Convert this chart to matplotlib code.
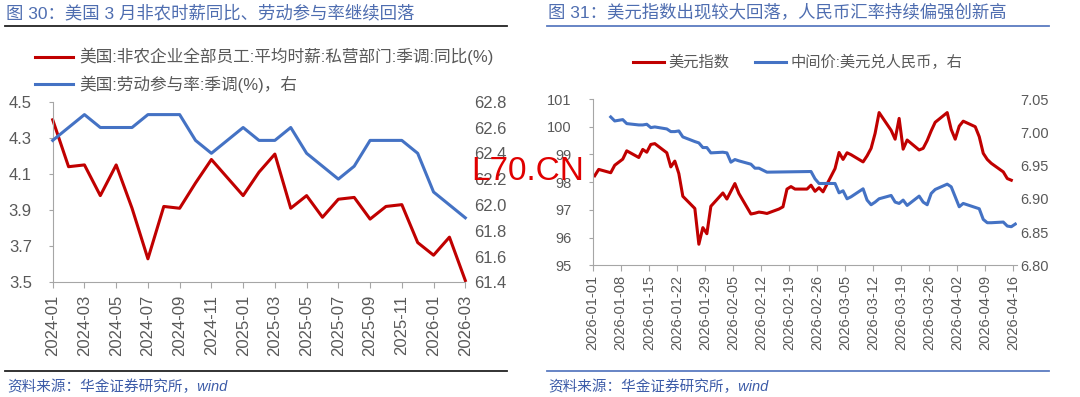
import numpy as np
import matplotlib
matplotlib.use("Agg")
import matplotlib.pyplot as plt
from matplotlib.lines import Line2D
from matplotlib.ticker import FormatStrFormatter

plt.rcParams['font.family'] = ['Liberation Sans', 'Noto Sans CJK SC']

# ---- 图30: monthly data ----
months = ['2024-01', '2024-02', '2024-03', '2024-04', '2024-05', '2024-06',
          '2024-07', '2024-08', '2024-09', '2024-10', '2024-11', '2024-12',
          '2025-01', '2025-02', '2025-03', '2025-04', '2025-05', '2025-06',
          '2025-07', '2025-08', '2025-09', '2025-10', '2025-11', '2025-12',
          '2026-01', '2026-02', '2026-03']
wage_yoy = [4.40, 4.14, 4.15, 3.98, 4.15, 3.91, 3.63, 3.92, 3.91, 4.05, 4.18, 4.08,
            3.98, 4.11, 4.21, 3.91, 3.98, 3.86, 3.96, 3.97, 3.85, 3.92, 3.93, 3.72,
            3.65, 3.75, 3.51]
lfpr = [62.5, 62.6, 62.7, 62.6, 62.6, 62.6, 62.7, 62.7, 62.7, 62.5, 62.4, 62.5,
        62.6, 62.5, 62.5, 62.6, 62.4, 62.3, 62.2, 62.3, 62.5, 62.5, 62.5, 62.4,
        62.1, 62.0, 61.9]

# ---- 图31: daily data ----
dxy_dates = ['01-01', '01-02', '01-05', '01-06', '01-07', '01-08', '01-09',
             '01-12', '01-13', '01-14', '01-15', '01-16', '01-19', '01-20',
             '01-21', '01-22', '01-23', '01-26', '01-27', '01-28', '01-29',
             '01-30', '02-02', '02-03', '02-04', '02-05', '02-06', '02-09',
             '02-10', '02-11', '02-12', '02-13', '02-16', '02-17', '02-18',
             '02-19', '02-20', '02-23', '02-24', '02-25', '02-26', '02-27',
             '03-02', '03-03', '03-04', '03-05', '03-06', '03-09', '03-10',
             '03-11', '03-12', '03-13', '03-16', '03-17', '03-18', '03-19',
             '03-20', '03-23', '03-24', '03-25', '03-26', '03-27', '03-30',
             '03-31', '04-01', '04-02', '04-03', '04-06', '04-07', '04-08',
             '04-09', '04-10', '04-13', '04-14', '04-15']
dxy = [98.23, 98.46, 98.34, 98.61, 98.72, 98.83, 99.13,
       98.89, 99.18, 99.08, 99.36, 99.39, 99.06, 98.55,
       98.76, 98.31, 97.49, 97.05, 95.76, 96.36, 96.14,
       97.13, 97.61, 97.39, 97.67, 97.95, 97.59, 96.85,
       96.88, 96.92, 96.90, 96.87, 97.03, 97.11, 97.75,
       97.84, 97.75, 97.75, 97.89, 97.67, 97.80, 97.65,
       98.49, 99.07, 98.82, 99.06, 98.99, 98.73, 98.95,
       99.22, 99.76, 100.51, 99.87, 99.55, 100.30, 99.19,
       99.52, 99.16, 99.22, 99.50, 99.85, 100.16, 100.51,
       99.90, 99.55, 100.02, 100.20, 100.00, 99.64, 99.04,
       98.82, 98.68, 98.37, 98.13, 98.07]

cny_dates = ['01-05', '01-06', '01-07', '01-08', '01-09', '01-12', '01-13',
             '01-14', '01-15', '01-16', '01-19', '01-20', '01-21', '01-22',
             '01-23', '01-26', '01-27', '01-28', '01-29', '01-30', '02-02',
             '02-03', '02-04', '02-05', '02-06', '02-09', '02-10', '02-11',
             '02-12', '02-13', '02-24', '02-25', '02-26', '02-27', '03-02',
             '03-03', '03-04', '03-05', '03-06', '03-09', '03-10', '03-11',
             '03-12', '03-13', '03-16', '03-17', '03-18', '03-19', '03-20',
             '03-23', '03-24', '03-25', '03-26', '03-27', '03-30', '03-31',
             '04-01', '04-02', '04-03', '04-07', '04-08', '04-09', '04-10',
             '04-13', '04-14', '04-15', '04-16']
cny = [7.023, 7.017, 7.018, 7.019, 7.013, 7.011, 7.011,
       7.012, 7.007, 7.008, 7.005, 7.001, 7.001, 7.002,
       6.993, 6.986, 6.984, 6.977, 6.977, 6.969, 6.970,
       6.969, 6.955, 6.959, 6.957, 6.952, 6.946, 6.946,
       6.943, 6.940, 6.941, 6.930, 6.923, 6.923, 6.923,
       6.909, 6.912, 6.900, 6.903, 6.915, 6.898, 6.891,
       6.895, 6.900, 6.905, 6.895, 6.893, 6.898, 6.890,
       6.904, 6.895, 6.891, 6.908, 6.914, 6.922, 6.918,
       6.903, 6.888, 6.893, 6.885, 6.869, 6.864, 6.864,
       6.865, 6.859, 6.858, 6.862]

week_ticks = ['2026-01-01', '2026-01-08', '2026-01-15', '2026-01-22',
              '2026-01-29', '2026-02-05', '2026-02-12', '2026-02-19',
              '2026-02-26', '2026-03-05', '2026-03-12', '2026-03-19',
              '2026-03-26', '2026-04-02', '2026-04-09', '2026-04-16']

RED = '#C00000'
BLUE = '#4472C4'
TXT = '#595959'
AXC = '#A6A6A6'
TITLE_C = '#4E6DB0'

W, H = 1080, 397


def fx(x):
    return x / W


def fy(y):
    return 1 - y / H


def day_pos(md):
    # days since 2026-01-01, plotted in the middle of the day slot
    d = np.array(['2026-' + s for s in md], dtype='datetime64[D]')
    return (d - np.datetime64('2026-01-01')).astype(int) + 0.5


def style_axes(ax, ax2, lsize, rpad):
    for s in ['top', 'right']:
        ax.spines[s].set_visible(False)
    for s in ['left', 'bottom']:
        ax.spines[s].set_color(AXC)
    for s in ax2.spines.values():
        s.set_visible(False)
    ax.tick_params(axis='y', direction='out', length=3, color=AXC,
                   labelsize=lsize, labelcolor=TXT, pad=12)
    ax.tick_params(axis='x', direction='out', length=4, color=AXC,
                   labelsize=lsize, labelcolor=TXT, pad=5, labelrotation=90)
    ax2.tick_params(axis='y', length=0, labelsize=lsize, labelcolor=TXT, pad=rpad)


fig = plt.figure(figsize=(10.8, 3.97), dpi=100)

# ---------------- left chart ----------------
ax = fig.add_axes([fx(52.7), fy(282.3), fx(465.3) - fx(52.7), (282.3 - 101.7) / H])
ax2 = ax.twinx()
xm = np.arange(len(months))
l1, = ax.plot(xm, wage_yoy, color=RED, lw=2.2, clip_on=False)
l2, = ax2.plot(xm, lfpr, color=BLUE, lw=2.2, clip_on=False)
ax.set_xlim(0, len(months) - 1)
ax.set_ylim(3.5, 4.5)
ax.set_yticks(np.arange(3.5, 4.51, 0.2))
ax.yaxis.set_major_formatter(FormatStrFormatter('%.1f'))
ax2.set_ylim(61.4, 62.8)
ax2.set_yticks(np.arange(61.4, 62.81, 0.2))
ax2.yaxis.set_major_formatter(FormatStrFormatter('%.1f'))
ax.set_xticks(xm[::2])
ax.set_xticklabels(months[::2])
style_axes(ax, ax2, 12, 6)

fig.legend([l1, l2], ['美国:非农企业全部员工:平均时薪:私营部门:季调:同比(%)',
                      '美国:劳动参与率:季调(%)，右'],
           loc='upper left', bbox_to_anchor=(fx(35), fy(48)), frameon=False,
           fontsize=12, handlelength=2.3, handletextpad=0.35, labelspacing=0.6,
           borderpad=0, borderaxespad=0, labelcolor=TXT)

# ---------------- right chart ----------------
ax3 = fig.add_axes([fx(592.7), fy(265.3), fx(1017.3) - fx(592.7), (265.3 - 99) / H])
ax4 = ax3.twinx()
r1, = ax3.plot(day_pos(dxy_dates), dxy, color=RED, lw=2.2)
r2, = ax4.plot(day_pos(cny_dates), cny, color=BLUE, lw=2.2)
ax3.set_xlim(0, 106)
ax3.set_ylim(95, 101)
ax3.set_yticks(np.arange(95, 102, 1))
ax4.set_ylim(6.80, 7.05)
ax4.set_yticks(np.arange(6.80, 7.051, 0.05))
ax4.yaxis.set_major_formatter(FormatStrFormatter('%.2f'))
tick_pos = (np.array(week_ticks, dtype='datetime64[D]') - np.datetime64('2026-01-01')).astype(int)
ax3.set_xticks(tick_pos)
ax3.set_xticklabels(week_ticks)
style_axes(ax3, ax4, 10.5, 2)
ax3.tick_params(axis='x', pad=3)

fig.legend([r1, r2], ['美元指数', '中间价:美元兑人民币，右'], ncol=2,
           loc='upper left', bbox_to_anchor=(fx(633), fy(55)), frameon=False,
           fontsize=11, handlelength=2.0, handletextpad=0.3, columnspacing=1.7,
           borderpad=0, borderaxespad=0, labelcolor=TXT)

# ---------------- titles, rules, sources ----------------
fig.text(fx(6), fy(13), '图 30：美国 3 月非农时薪同比、劳动参与率继续回落',
         fontsize=12.5, color=TITLE_C, va='center', ha='left')
fig.text(fx(548), fy(13), '图 31：美元指数出现较大回落，人民币汇率持续偏强创新高',
         fontsize=12.5, color=TITLE_C, va='center', ha='left')

fig.add_artist(Line2D([fx(5), fx(507)], [fy(25.5)] * 2, color='#222222', lw=1.3))
fig.add_artist(Line2D([fx(5), fx(507)], [fy(370.7)] * 2, color='#222222', lw=1.3))
fig.add_artist(Line2D([fx(547), fx(1049)], [fy(25.5)] * 2, color='#5B7BC0', lw=1.3))
fig.add_artist(Line2D([fx(547), fx(1049)], [fy(370.7)] * 2, color='#5B7BC0', lw=1.3))

for x0 in (7, 548):
    fig.text(fx(x0), fy(387), '资料来源：华金证券研究所，wind', fontsize=10.5,
             style='italic', color='#3D5CA8', va='center', ha='left')

# watermark (sits over the chart in the reference too)
fig.text(fx(528), fy(172), 'L70.CN', fontsize=24, color='#E00000',
         ha='center', va='center', zorder=10)

fig.savefig('out.png', dpi=100)
